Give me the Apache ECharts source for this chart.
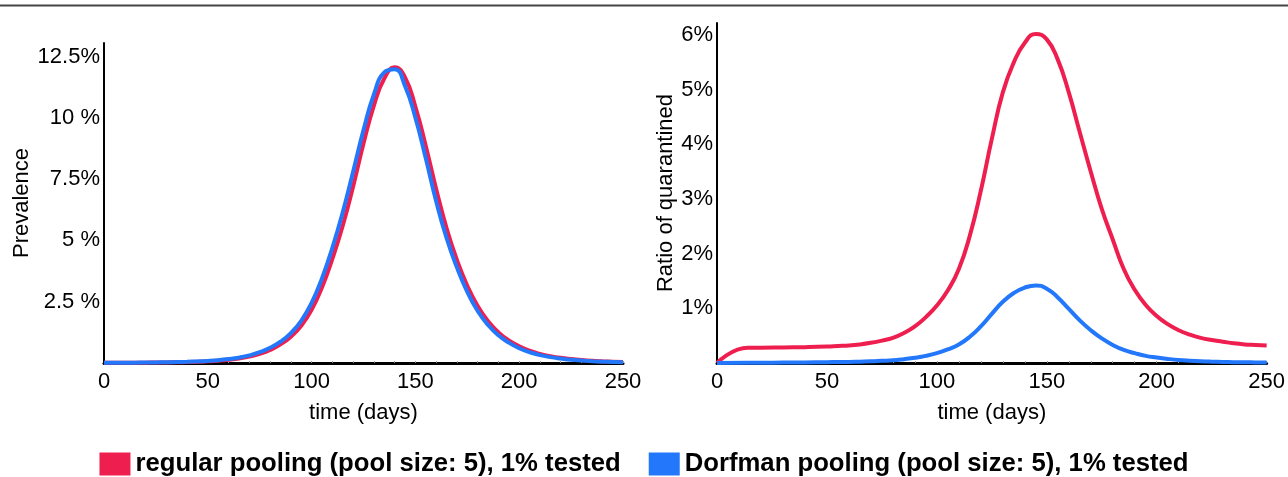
<!DOCTYPE html>
<html>
<head>
<meta charset="utf-8">
<script src="https://cdn.jsdelivr.net/npm/echarts@6/dist/echarts.min.js"></script>
<style>
  html, body { margin: 0; padding: 0; background: #fff; }
  #chart { width: 1288px; height: 477px; }
</style>
</head>
<body>
<div id="chart"></div>
<script>
// 名称
const seriesNames = ['regular pooling (pool size: 5), 1% tested', 'Dorfman pooling (pool size: 5), 1% tested'];
const colors = ['#ee1f4f', '#2277fb'];

// 左图: prevalence, 每5天
const prevDays = [0, 5, 10, 15, 20, 25, 30, 35, 40, 45, 50, 55, 60, 65, 70, 75, 80, 85, 90, 95,
    100, 105, 110, 115, 120, 125, 130, 135, 140, 145, 150, 155, 160, 165, 170, 175, 180, 185, 190, 195,
    200, 205, 210, 215, 220, 225, 230, 235, 240, 245, 250];
const prevRegular = [0.01, 0.01, 0.01, 0.012, 0.015, 0.02, 0.025, 0.03, 0.04, 0.05, 0.07, 0.095, 0.13, 0.18, 0.26, 0.37, 0.53, 0.76, 1.07, 1.52,
    2.17, 3.08, 4.25, 5.6, 7.2, 8.95, 10.5, 11.6, 12.06, 11.65, 10.45, 8.85, 7.1, 5.5, 4.2, 3.15, 2.32, 1.7, 1.25, 0.92,
    0.68, 0.5, 0.37, 0.28, 0.21, 0.16, 0.12, 0.09, 0.07, 0.055, 0.045];
const prevDorfman = [0.01, 0.01, 0.01, 0.015, 0.02, 0.025, 0.03, 0.04, 0.05, 0.065, 0.085, 0.115, 0.16, 0.22, 0.31, 0.44, 0.62, 0.87, 1.22, 1.72,
    2.45, 3.45, 4.7, 6.15, 7.8, 9.5, 10.95, 11.85, 11.98, 11.3, 10.0, 8.35, 6.6, 5.1, 3.9, 2.9, 2.12, 1.55, 1.13, 0.83,
    0.6, 0.44, 0.32, 0.24, 0.18, 0.13, 0.1, 0.075, 0.055, 0.04, 0.03];

// 右图: ratio of quarantined
const quarDays = [0, 14, 20, 30, 40, 50, 55, 60, 65, 70, 75, 80, 85, 90, 95,
    100, 105, 110, 115, 120, 125, 130, 135, 140, 145, 150, 155, 160, 165, 170, 175, 180, 185, 190, 195,
    200, 205, 210, 215, 220, 225, 230, 235, 240, 245, 250];
const quarRegular = [0, 0.28, 0.28, 0.285, 0.29, 0.3, 0.31, 0.32, 0.34, 0.37, 0.41, 0.46, 0.55, 0.67, 0.84,
    1.05, 1.33, 1.72, 2.33, 3.15, 4.1, 4.95, 5.5, 5.86, 6.02, 5.92, 5.55, 4.95, 4.22, 3.5, 2.82, 2.26, 1.72, 1.34, 1.06,
    0.86, 0.71, 0.6, 0.52, 0.46, 0.42, 0.39, 0.36, 0.34, 0.33, 0.32];
const quarDorfman = [0, 0.005, 0.005, 0.008, 0.01, 0.015, 0.018, 0.02, 0.025, 0.03, 0.04, 0.05, 0.07, 0.095, 0.13,
    0.18, 0.25, 0.34, 0.48, 0.67, 0.9, 1.12, 1.28, 1.38, 1.42, 1.36, 1.2, 0.99, 0.78, 0.6, 0.45, 0.33, 0.24, 0.18, 0.13,
    0.1, 0.075, 0.055, 0.042, 0.032, 0.025, 0.02, 0.016, 0.013, 0.011, 0.01];

// 刻度标签
const prevLabels = { 2.5: '2.5 %', 5: '5 %', 7.5: '7.5%', 10: '10 %', 12.5: '12.5%' };
const quarLabels = { 1: '1%', 2: '2%', 3: '3%', 4: '4%', 5: '5%', 6: '6%' };

const font = 'Liberation Sans, Arial, sans-serif';

const pairs = (xs, ys) => xs.map((x, i) => [x, ys[i]]);

const xAxisBase = {
    type: 'value', min: 0, max: 250, interval: 50,
    name: 'time (days)', nameLocation: 'middle', nameGap: 39,
    nameTextStyle: { color: '#000', fontSize: 22, fontFamily: font },
    axisLine: { lineStyle: { color: '#000', width: 3 } },
    axisTick: { show: true, inside: true, length: 2, lineStyle: { color: '#999' } },
    minorTick: { show: true, splitNumber: 5, length: 2, lineStyle: { color: '#999' } },
    axisLabel: { color: '#000', fontSize: 22, fontFamily: font, margin: 8 },
    splitLine: { show: false }
};

const yAxisBase = {
    type: 'value', min: 0, nameLocation: 'middle', nameRotate: 90,
    nameTextStyle: { color: '#000', fontSize: 22, fontFamily: font },
    axisLine: { show: true, lineStyle: { color: '#000', width: 2 } },
    axisTick: { show: false },
    splitLine: { show: false }
};

const lineSeries = (name, idx, data, color) => ({
    name, type: 'line', xAxisIndex: idx, yAxisIndex: idx,
    data, smooth: 0.5, showSymbol: false, symbol: 'none',
    lineStyle: { color, width: 4 }, itemStyle: { color },
    animation: false
});

const chart = echarts.init(document.getElementById('chart'));
chart.setOption({
    backgroundColor: '#fff',
    animation: false,
    graphic: [{
        type: 'line', shape: { x1: 0, y1: 5.5, x2: 1288, y2: 5.5 },
        style: { stroke: '#444', lineWidth: 2 }
    }],
    legend: {
        data: seriesNames,
        top: 446, left: 'center',
        itemWidth: 31, itemHeight: 23, itemGap: 28,
        icon: 'rect',
        textStyle: { color: '#000', fontSize: 25.7, fontWeight: 'bold', fontFamily: font }
    },
    grid: [
        { left: 104, top: 43, width: 519, height: 320 },
        { left: 717, top: 23, width: 551, height: 340 }
    ],
    xAxis: [
        Object.assign({}, xAxisBase, { gridIndex: 0 }),
        Object.assign({}, xAxisBase, { gridIndex: 1 })
    ],
    yAxis: [
        Object.assign({}, yAxisBase, {
            gridIndex: 0, max: 13.05, interval: 2.5, name: 'Prevalence', nameGap: 71,
            axisLabel: { color: '#000', fontSize: 22, fontFamily: font, margin: 4,
                formatter: v => prevLabels[v] || '' }
        }),
        Object.assign({}, yAxisBase, {
            gridIndex: 1, max: 6.22, interval: 1, name: 'Ratio of quarantined', nameGap: 40,
            axisLabel: { color: '#000', fontSize: 22, fontFamily: font, margin: 4,
                formatter: v => quarLabels[v] || '' }
        })
    ],
    series: [
        lineSeries(seriesNames[0], 0, pairs(prevDays, prevRegular), colors[0]),
        lineSeries(seriesNames[1], 0, pairs(prevDays, prevDorfman), colors[1]),
        lineSeries(seriesNames[0], 1, pairs(quarDays, quarRegular), colors[0]),
        lineSeries(seriesNames[1], 1, pairs(quarDays, quarDorfman), colors[1])
    ]
});
</script>
</body>
</html>
